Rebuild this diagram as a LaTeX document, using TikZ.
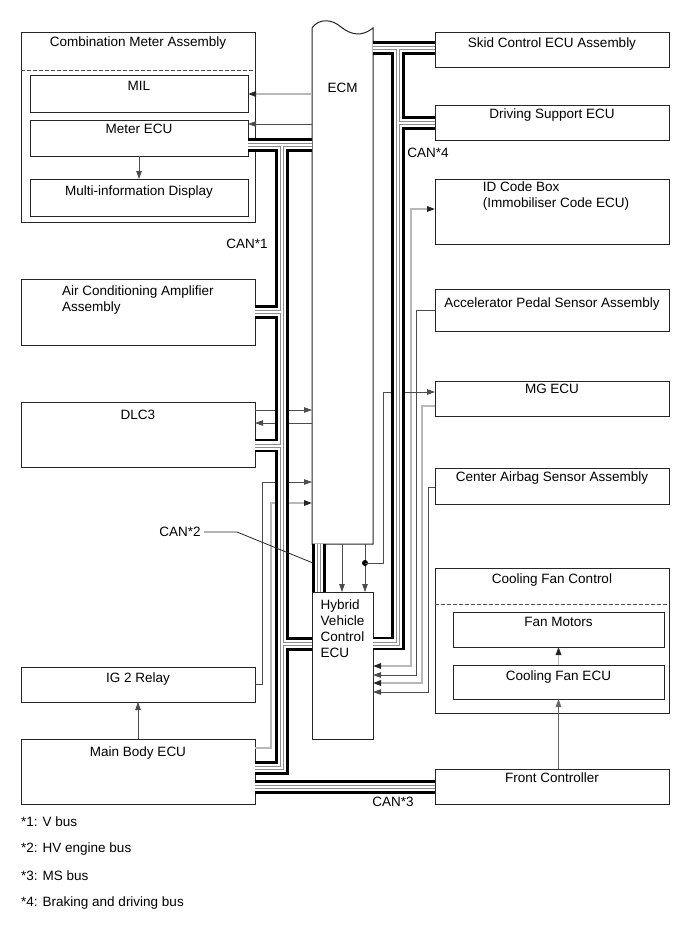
\documentclass[tikz,border=0pt]{standalone}
\usepackage{fontspec}
\setmainfont{Liberation Sans}
\usetikzlibrary{arrows.meta}

\begin{document}
\begin{tikzpicture}[x=1pt, y=-1pt, font=\fontsize{13.5}{16}\selectfont]
  \tikzstyle{unit}=[draw=black!85, line width=1pt, anchor=north west, inner sep=0pt, outer sep=0pt]
  \tikzstyle{lbl}=[anchor=north, inner sep=0pt, align=center, yshift=-6pt]
  \tikzstyle{sig}=[draw=black!70, line width=0.8pt, -{Triangle[length=8pt,width=5.5pt]}]
  \tikzstyle{sigpale}=[draw=black!28, line width=1.6pt, -{Triangle[length=8pt,width=5.5pt,color=black!85]}]
  \tikzstyle{split}=[draw=black!70, line width=0.8pt, dash pattern=on 4pt off 2pt]
  \tikzstyle{note}=[anchor=west, inner sep=0pt]
  \useasboundingbox (0,0) rectangle (689,951);
  \fill[white] (0,0) rectangle (689,951);

  % left column
  \node[unit, minimum width=234, minimum height=190, label={[lbl, yshift=1pt]north:Combination Meter Assembly}] (cma) at (21,32) {};
  \draw[split] (cma.west |- 0,70) -- (cma.east |- 0,70);
  \node[unit, minimum width=218, minimum height=37, label={[lbl]north:MIL}] (mil) at (30,75) {};
  \node[unit, minimum width=218, minimum height=36, label={[lbl, yshift=2pt]north:Meter ECU}] (meter) at (30,120) {};
  \node[unit, minimum width=218, minimum height=37, label={[lbl, yshift=-1pt]north:Multi-information Display}] (mid) at (30,179) {};
  \node[unit, minimum width=234, minimum height=66, label={[lbl, align=left, yshift=-1pt]north:Air Conditioning Amplifier\\Assembly}] (acamp) at (21,279) {};
  \node[unit, minimum width=234, minimum height=65, label={[lbl, yshift=-2pt]north:DLC3}] (dlc) at (21,402) {};
  \node[unit, minimum width=234, minimum height=35, label={[lbl]north:IG 2 Relay}] (igrelay) at (21,667) {};
  \node[unit, minimum width=234, minimum height=65, label={[lbl, yshift=-2pt]north:Main Body ECU}] (mainbody) at (21,739) {};

  % middle
  \node[unit, draw=none, minimum width=61, minimum height=516, label={[lbl, yshift=-49pt]north:ECM}] (ecm) at (312,28) {};
  \draw[black!85, line width=1pt] (ecm.south west) -- (ecm.north west)
    .. controls (319,18) and (332,19) .. (341,27)
    .. controls (351,35) and (362,37) .. (ecm.north east) -- (ecm.south east) -- cycle;
  \node[unit, minimum width=61, minimum height=147, label={[lbl, align=left, yshift=-2pt]north:Hybrid\\Vehicle\\Control\\ECU}] (hvecu) at (312,592) {};

  % right column
  \node[unit, minimum width=234, minimum height=35, label={[lbl]north:Skid Control ECU Assembly}] (skid) at (435,32) {};
  \node[unit, minimum width=234, minimum height=35, label={[lbl, yshift=2pt]north:Driving Support ECU}] (drvsup) at (435,105) {};
  \node[unit, minimum width=234, minimum height=65, label={[lbl, align=left, yshift=3pt, xshift=4pt]north:ID Code Box\\(Immobiliser Code ECU)}] (idbox) at (435,179) {};
  \node[unit, minimum width=234, minimum height=42, label={[lbl, yshift=-3pt]north:Accelerator Pedal Sensor Assembly}] (accel) at (435,289) {};
  \node[unit, minimum width=234, minimum height=35, label={[lbl, yshift=3pt]north:MG ECU}] (mgecu) at (435,381) {};
  \node[unit, minimum width=234, minimum height=36, label={[lbl, yshift=2pt]north:Center Airbag Sensor Assembly}] (airbag) at (435,468) {};
  \node[unit, minimum width=234, minimum height=145, label={[lbl]north:Cooling Fan Control}] (fanctl) at (435,568) {};
  \draw[split] (fanctl.west |- 0,604) -- (fanctl.east |- 0,604);
  \node[unit, minimum width=211, minimum height=35, label={[lbl, yshift=1pt]north:Fan Motors}] (fanmot) at (453,612) {};
  \node[unit, minimum width=211, minimum height=34, label={[lbl]north:Cooling Fan ECU}] (fanecu) at (453,665) {};
  \node[unit, minimum width=234, minimum height=35, label={[lbl, yshift=2pt]north:Front Controller}] (frontctl) at (435,769) {};

  % signal lines
  \draw[sigpale] (ecm.west |- 0,94) -- (mil.east |- 0,94);
  \draw[sig] (ecm.west |- 0,124) -- (meter.east |- 0,124);
  \draw[sig] (meter.south) -- (mid.north);
  \draw[sig] (dlc.east |- 0,410) -- (ecm.west |- 0,410);
  \draw[sig] (ecm.west |- 0,423) -- (dlc.east |- 0,423);
  \draw[sig] (igrelay.east) -| (262,482) -- (ecm.west |- 0,482);
  \draw[sigpale] (mainbody.east |- 0,748) -| (271,503) -- (ecm.west |- 0,503);
  \draw[sig] (mainbody.north) -- (igrelay.south);
  \draw[sigpale, {Triangle[length=8pt,width=5.5pt,color=black!85]}-{Triangle[length=8pt,width=5.5pt,color=black!85]}]
    (hvecu.east |- 0,666) -| (411,209) -- (idbox.west |- 0,209);
  \draw[sig] (accel.west |- 0,310) -| (416,675) -- (hvecu.east |- 0,675);
  \draw[sigpale] (mgecu.west |- 0,406) -| (422,683) -- (hvecu.east |- 0,683);
  \draw[sig] (airbag.west |- 0,487) -| (428,692) -- (hvecu.east |- 0,692);
  \draw[sig] (ecm.south -| 342,0) -- (hvecu.north -| 342,0);
  \coordinate (jdot) at (365,563);
  \draw[sig] (ecm.south -| jdot) -- (hvecu.north -| jdot);
  \fill[black] (jdot) circle (3pt);
  \draw[sig] (jdot) -| (383,392) -- (mgecu.west |- 0,392);
  \draw[sig, draw=black!60] (fanecu.south |- frontctl.north) -- (fanecu.south);
  \draw[sigpale] (fanecu.north) -- (fanmot.south);

  % CAN buses
  \foreach \w/\c in {13.5/black, 8.5/white, 4/black!45, 2/white}
    \draw[line width=\w pt, draw=\c, line join=miter]
      % CAN*1
      (meter.east |- 0,145) -- (ecm.west |- 0,145)
      (282,145) -- (282,768) -- (mainbody.east |- 0,768)
      (acamp.east |- 0,312) -- (282,312)
      (dlc.east |- 0,445.5) -- (282,445.5)
      (282,644) -- (hvecu.west |- 0,644)
      % CAN*2
      (ecm.south -| 319,0) -- (hvecu.north -| 319,0)
      % CAN*3
      (mainbody.east |- 0,787) -- (frontctl.west |- 0,787)
      % CAN*4
      (ecm.east |- 0,48) -- (skid.west |- 0,48)
      (398,48) -- (398,643.5) -- (hvecu.east |- 0,643.5)
      (398,123) -- (drvsup.west |- 0,123);

  % bus labels
  \node (can1) at (247,244) {CAN*1};
  \node (can2) at (180,532) {CAN*2};
  \node (can3) at (393,802) {CAN*3};
  \node (can4) at (428,153) {CAN*4};
  \coordinate (can2bend) at (237,532);
  \coordinate (can2tip) at (313,563);
  \draw[black!85, line width=0.8pt] (can2.east) -- (can2bend) -- (can2tip);

  % notes
  \node[note] (fn1) at (21,822) {*1: V bus};
  \node[note] (fn2) at (21,849) {*2: HV engine bus};
  \node[note] (fn3) at (21,876) {*3: MS bus};
  \node[note] (fn4) at (21,903) {*4: Braking and driving bus};
\end{tikzpicture}
\end{document}
